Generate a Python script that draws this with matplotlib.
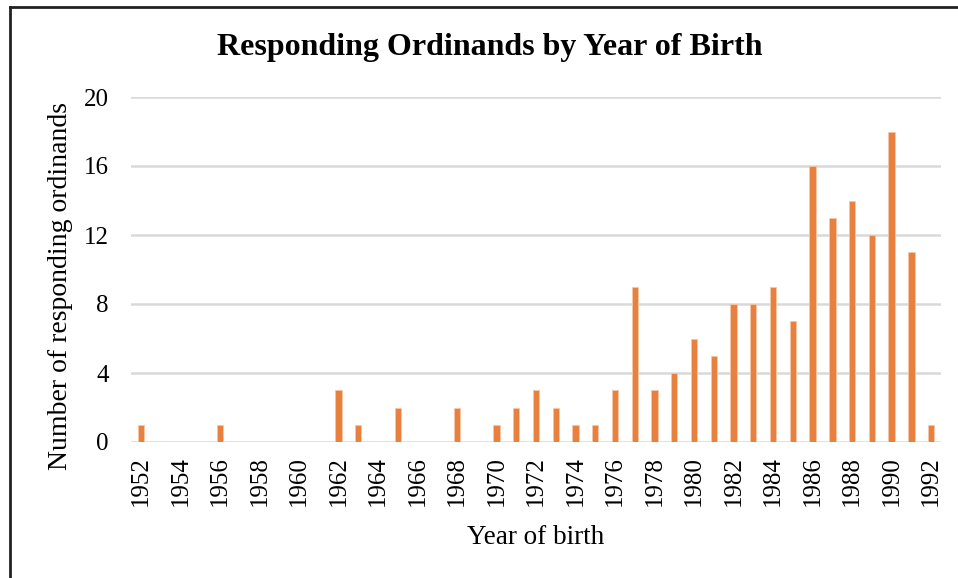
import matplotlib
matplotlib.use("Agg")
import matplotlib.pyplot as plt
from matplotlib.lines import Line2D

years = list(range(1952, 1993))
counts = [1, 0, 0, 0, 1, 0, 0, 0, 0, 0,
          3, 1, 0, 2, 0, 0, 2, 0, 1, 2,
          3, 2, 1, 1, 3, 9, 3, 4, 6, 5,
          8, 8, 9, 7, 16, 13, 14, 12, 18, 11,
          1]
yticks = [0, 4, 8, 12, 16, 20]
xticks = list(range(1952, 1993, 2))

plt.rcParams['font.family'] = ['Liberation Serif', 'DejaVu Serif']

fig = plt.figure(figsize=(9.58, 5.78), dpi=100)
ax = fig.add_axes([131/958, 1 - 442/578, 810/958, 345/578])

ax.bar(years, counts, width=0.32, color='#E8803F', edgecolor='#F6C8A8', linewidth=0.6, zorder=3)

ax.set_xlim(1951.5, 1992.5)
ax.set_ylim(0, 20)
ax.set_yticks(yticks)
ax.set_xticks(xticks)
ax.set_xticklabels([str(x) for x in xticks], rotation=90)
ax.tick_params(axis='both', length=0, labelsize=18)
ax.tick_params(axis='y', pad=16)
ax.tick_params(axis='x', pad=10)
ax.grid(axis='y', color='#D9D9D9', linewidth=1.8, zorder=0)
for s in ax.spines.values():
    s.set_visible(False)

ax.set_xlabel('Year of birth', fontsize=19.5, labelpad=14)
ax.set_ylabel('Number of responding ordinands', fontsize=20)
ax.yaxis.set_label_coords(-0.072, 0.452)
fig.text(490/958, 1 - 47/578, 'Responding Ordinands by Year of Birth',
         ha='center', va='center', fontsize=23, fontweight='bold')

# outer frame (top and left only visible)
fig.add_artist(Line2D([10/958, 1.0], [1 - 7/578, 1 - 7/578], color='#222222', linewidth=2, transform=fig.transFigure))
fig.add_artist(Line2D([10/958, 10/958], [0, 1 - 7/578], color='#222222', linewidth=2, transform=fig.transFigure))

fig.savefig('out.png', dpi=100)
